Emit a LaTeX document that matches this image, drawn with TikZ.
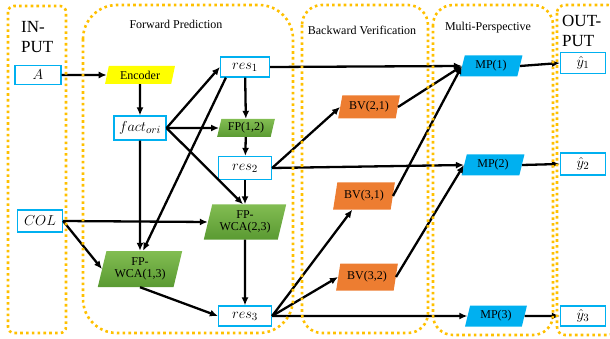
\documentclass[tikz,border=0pt]{standalone}
\usepackage{fontspec}
\setmainfont{Liberation Serif}
\usetikzlibrary{shapes.geometric,arrows.meta}
\definecolor{dotor}{HTML}{FFC000}
\definecolor{boxbl}{HTML}{00B0F0}
\definecolor{bvor}{HTML}{ED7D31}
\definecolor{mpbl}{HTML}{00B0F0}
\definecolor{gtop}{HTML}{82BD52}
\definecolor{gbot}{HTML}{5A9A32}
\definecolor{ency}{HTML}{FFFF00}
\begin{document}
\begin{tikzpicture}[x=1pt,y=-1pt,
 panel/.style={draw=dotor, line width=2.6pt, dash pattern=on 2.6pt off 3.2pt},
 ptitle/.style={font=\fontsize{12}{13}\selectfont, inner sep=0pt},
 bigtitle/.style={font=\fontsize{17}{20}\selectfont, align=left, inner sep=0pt, anchor=north west},
 vbox/.style={draw=boxbl, line width=1.2pt, fill=white, inner sep=0pt, font=\fontsize{15.5}{15.5}\selectfont},
 para/.style={trapezium, trapezium left angle=74, trapezium right angle=106, trapezium stretches=true, inner sep=0pt, align=center, font=\fontsize{12}{12.5}\selectfont},
 gpara/.style={para, top color=gtop, bottom color=gbot, draw=none},
 opara/.style={para, fill=bvor, draw=none},
 bpara/.style={para, fill=mpbl, draw=none},
 ypara/.style={para, fill=ency, draw=none},
 conn/.style={line width=2.3pt, -{Latex[length=8pt,width=7pt]}},
 ]
\useasboundingbox (0,0) rectangle (610,339);
\clip (0,0) rectangle (610,339);

% nodes
\node[vbox, minimum width=46pt, minimum height=19pt] (A) at (38,75) {$A$};
\node[ypara, minimum width=70pt, minimum height=18pt] (enc) at (140,75) {Encoder};
\node[vbox, minimum width=52pt, minimum height=24pt] (fact) at (140,128) {$fact_{ori}$};
\node[vbox, minimum width=49pt, minimum height=20pt] (r1) at (245,67) {$res_1$};
\node[gpara, minimum width=58pt, minimum height=18pt] (fp12) at (246,128) {FP(1,2)};
\node[vbox, minimum width=53pt, minimum height=23pt] (r2) at (245,168) {$res_2$};
\node[vbox, minimum width=45pt, minimum height=22pt] (col) at (40,221) {$COL$};
\node[gpara, minimum width=83pt, minimum height=35pt] (w23) at (245,222) {FP-\\WCA(2,3)};
\node[gpara, minimum width=85pt, minimum height=36pt] (w13) at (140,269) {FP-\\WCA(1,3)};
\node[vbox, minimum width=53pt, minimum height=20pt] (r3) at (245,316) {$res_3$};
\node[opara, minimum width=62pt, minimum height=23pt] (bv21) at (369,107) {BV(2,1)};
\node[opara, minimum width=62pt, minimum height=27pt] (bv31) at (364,196) {BV(3,1)};
\node[opara, minimum width=62pt, minimum height=27pt] (bv32) at (367,277) {BV(3,2)};
\node[bpara, minimum width=63pt, minimum height=21pt] (mp1) at (491,66) {MP(1)};
\node[bpara, minimum width=63pt, minimum height=21pt] (mp2) at (493,165) {MP(2)};
\node[bpara, minimum width=62pt, minimum height=21pt] (mp3) at (496,316) {MP(3)};
\node[vbox, minimum width=45pt, minimum height=21pt] (y1) at (583,63) {$\hat{y}_1$};
\node[vbox, minimum width=45pt, minimum height=22pt] (y2) at (583,164) {$\hat{y}_2$};
\node[vbox, minimum width=45pt, minimum height=20pt] (y3) at (583,316) {$\hat{y}_3$};

% connectors
\draw[conn] (A) -- (enc);
\draw[conn] (enc) -- (fact);
\draw[conn] (fact.east) -- (r1.west);
\draw[conn] (fact.east) -- (fp12.west);
\draw[conn] (fact.east) -- ([xshift=-2pt]w23.north);
\draw[conn] (fact.south) -- (w13.north);
\draw[conn] ([xshift=6pt]r1.south west) -- ([xshift=3pt]w13.north);
\draw[conn] (r1) -- (fp12);
\draw[conn] (fp12) -- (r2);
\draw[conn] (r2) -- (w23);
\draw[conn] (col.east) -- (w23.west);
\draw[conn] (col.east) -- (w13.west);
\draw[conn] (w23) -- (r3);
\draw[conn] (w13.south) -- (r3.west);
\draw[conn] (r1.east) -- (mp1.west);
\draw[conn] (r2.east) -- (bv21.west);
\draw[conn] (r2.east) -- (mp2.west);
\draw[conn] (r3.east) -- ([xshift=2pt]bv31.south west);
\draw[conn] (r3.east) -- (bv32.west);
\draw[conn] (r3.east) -- (mp3.west);
\draw[conn] (bv21.east) -- (mp1.west);
\draw[conn] (bv31.east) -- (mp1.west);
\draw[conn] (bv32.east) -- (mp2.west);
\draw[conn] (mp1.east) -- (y1.west);
\draw[conn] (mp2.east) -- (y2.west);
\draw[conn] (mp3.east) -- (y3.west);

% panels
\draw[panel, rounded corners=6pt] (8,6) rectangle (66,333);
\draw[panel, rounded corners=34pt] (83,5) rectangle (293,333);
\draw[panel, rounded corners=20pt] (302,5) rectangle (428,333);
\draw[panel, rounded corners=20pt] (433,5) rectangle (553,335);
\draw[panel, rounded corners=8pt] (557,5) rectangle (616,335);

% panel titles
\node[bigtitle] (tin) at (21,21) {IN-\\PUT};
\node[bigtitle] (tout) at (562,15) {OUT-\\PUT};
\node[ptitle] (tfp) at (176,24) {Forward Prediction};
\node[ptitle] (tbv) at (362,30) {Backward Verification};
\node[ptitle] (tmp) at (488,28) {Multi-Perspective};
\end{tikzpicture}
\end{document}
